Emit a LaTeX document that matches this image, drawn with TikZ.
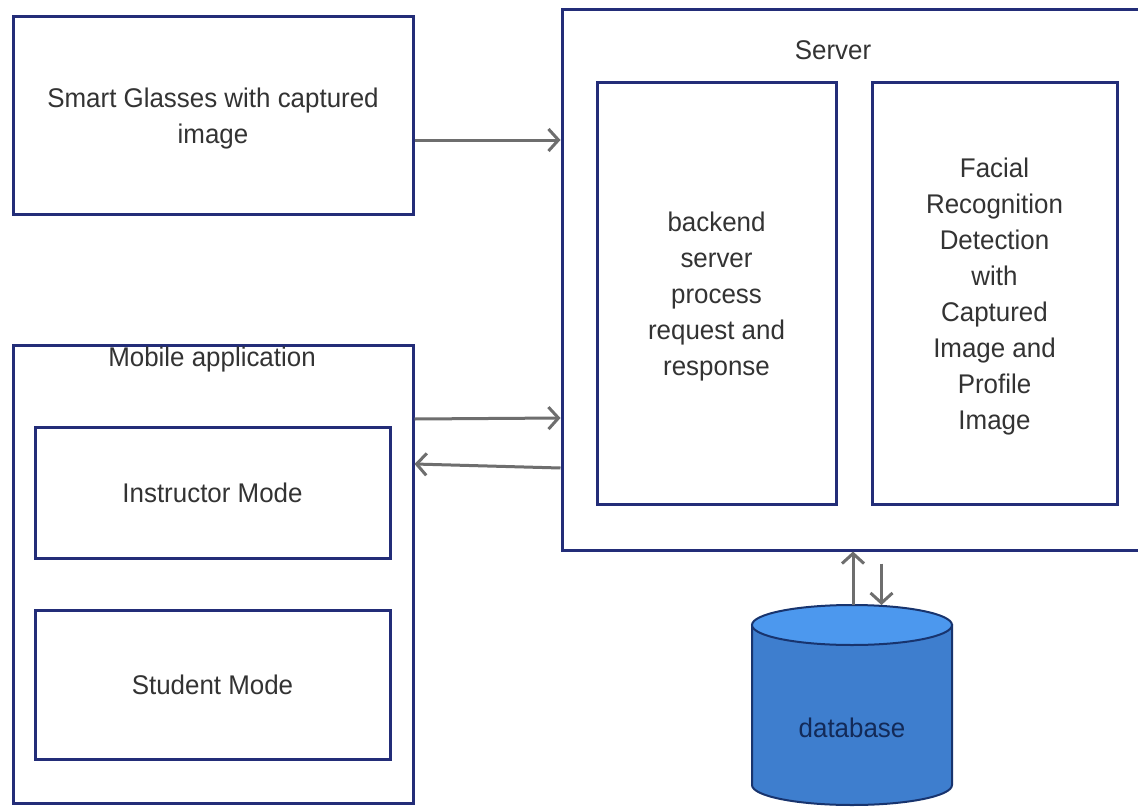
\documentclass[tikz,border=0pt]{standalone}
\usepackage{fontspec}
\setmainfont[FakeStretch=0.96]{Liberation Sans}
\usetikzlibrary{arrows.meta,positioning}
\definecolor{navy}{RGB}{35,45,120}
\definecolor{arrgray}{RGB}{110,110,110}
\definecolor{dbbody}{RGB}{62,126,206}
\definecolor{dbtop}{RGB}{76,152,238}
\definecolor{dbline}{RGB}{24,52,110}
\definecolor{txt}{RGB}{51,51,51}
\begin{document}
\begin{tikzpicture}[x=1pt,y=-1pt,box/.style={draw=navy,line width=3pt,rectangle,inner
					sep=0pt,text=txt,align=center,font=\fontsize{27}{36}\selectfont},lbl/.style={inner
					sep=0pt,text=txt,align=center,font=\fontsize{27}{36}\selectfont},arr/.style={draw=arrgray,line
					width=3pt,-{Straight Barb[length=10pt,width=22pt]}}]
		\useasboundingbox[fill=white] (0,0) rectangle (1138,806);
		% left side
		\node[box,minimum width=400pt,minimum height=198pt,label={[lbl,yshift=-4pt]center:Smart Glasses with captured\\image}] (glasses) at (213,115) {};
		\node[box,minimum width=400pt,minimum height=458pt] (mobile) at (213,574) {};
		\node[lbl] (mobilelbl) at (212,360) {Mobile application};
		\node[box,minimum width=355pt,minimum height=131pt] (instructor) at (212.5,492.5) {Instructor Mode};
		\node[box,minimum width=355pt,minimum height=149pt] (student) at (212.5,684.5) {Student Mode};
		% server
		\node[box,minimum width=583pt,minimum height=541pt] (server) at (853.5,279.5) {};
		\node[lbl] (serverlbl) at (833,50) {Server};
		\node[box,minimum width=239pt,minimum height=422pt,label={[lbl,yshift=-4pt]center:backend\\server\\process\\request and\\response}] (backend) at (716.5,293) {};
		\node[box,minimum width=245pt,minimum height=422pt,label={[lbl,yshift=-4pt]center:Facial\\Recognition\\Detection\\with\\Captured\\Image and\\Profile\\Image}] (facial) at (994.5,293) {};
		% database
		\filldraw[fill=dbbody,draw=dbline,line width=2pt] (752,625) -- (752,785) arc[start angle=180,end
			angle=0,x radius=100,y radius=20] -- (952,625) -- cycle;
		\filldraw[fill=dbtop,draw=dbline,line width=2pt] (852,625) ellipse[x radius=100,y radius=20];
		\node[lbl,text=dbline!80!black] (db) at (852,728) {database};
		\coordinate (dbn) at (853,605);
		% connectors
		\draw[arr] ([yshift=-25pt]glasses.east) -- ([yshift=-25pt]glasses.east -| server.west);
		\draw[arr] ([yshift=155pt]mobile.east) -- ([yshift=-138.5pt]server.west);
		\draw[arr] ([yshift=-188.5pt]server.west) -- ([yshift=110pt]mobile.east);
		\draw[arr] (dbn) -- (dbn |- server.south);
		\draw[arr] ([xshift=28pt,yshift=-12pt]server.south) -- ([xshift=28pt]server.south |- dbn);
	\end{tikzpicture}
\end{document}
